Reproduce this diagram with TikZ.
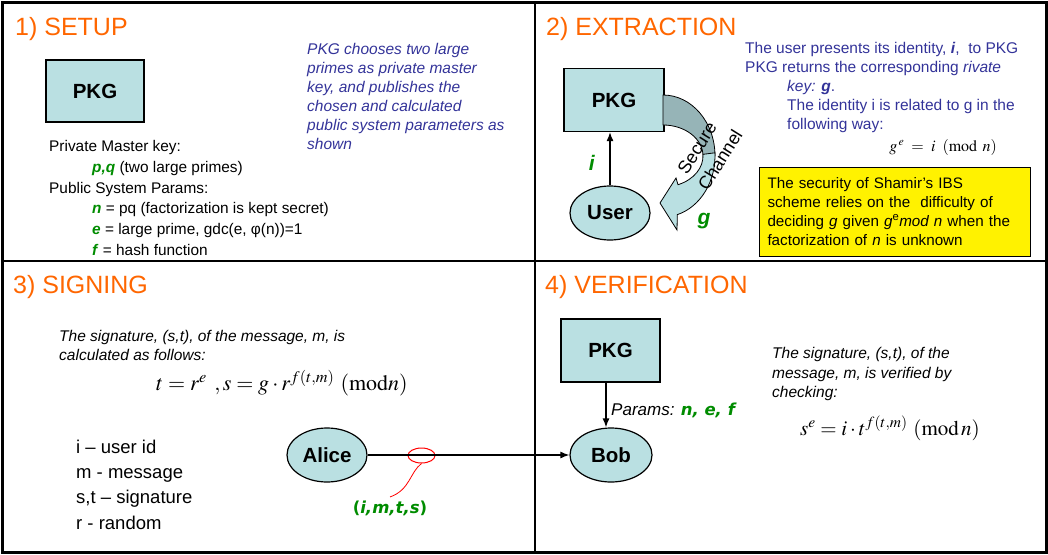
\documentclass[tikz,border=0pt]{standalone}
\usepackage{mathptmx}
\usepackage[no-math]{fontspec}
\setmainfont{Liberation Sans}
\newfontfamily\verd{DejaVu Sans}
\usetikzlibrary{arrows.meta,shapes.geometric}
\definecolor{ttl}{RGB}{255,102,0}
\definecolor{txtblue}{RGB}{51,51,153}
\definecolor{grn}{RGB}{0,140,0}
\definecolor{boxfill}{RGB}{186,224,226}
\definecolor{chdark}{RGB}{150,180,183}
\newcommand{\gv}[1]{\textcolor{grn}{\textbf{\textit{#1}}}}
\newcommand{\fs}[2]{\fontsize{#1}{#2}\selectfont}
\tikzset{
  paneltitle/.style={anchor=base west,text=ttl,font=\fs{25}{25},inner sep=0},
  pkgbox/.style={draw,line width=1.2pt,fill=boxfill,minimum width=98pt,minimum height=62pt,font=\fs{20.5}{20.5}\bfseries},
  actor/.style={ellipse,draw,line width=1.2pt,fill=boxfill,minimum width=80pt,minimum height=54pt,inner sep=0,font=\fs{20.5}{20.5}\bfseries},
  para/.style={anchor=north west,align=left,inner sep=0},
  flow/.style={->,line width=1.3pt},
}
\begin{document}
\begin{tikzpicture}[x=1pt,y=1pt,>={Latex[length=9pt,width=7pt]}]
\useasboundingbox (0,0) rectangle (1048,-554);
\draw[line width=3pt] (2,-2) rectangle (1046,-552);
\draw[line width=2.5pt] (535,-2) -- (535,-552) (2,-261) -- (1046,-261);

\node[paneltitle] (t1) at (15,-35) {1) SETUP};
\node[pkgbox] (pkga) at (95,-91) {PKG};
\node[para,font=\fs{15.4}{20.7}] (keys) at (49,-140.5) {Private Master key:\\
  \hspace*{43pt}\gv{p,q} (two large primes)\\
  Public System Params:\\
  \hspace*{43pt}\gv{n} = pq (factorization is kept secret)\\
  \hspace*{43pt}\gv{e} = large prime, gdc(e, φ(n))=1\\
  \hspace*{43pt}\gv{f} = hash function};
\node[para,text=txtblue,font=\fs{15.5}{19}\itshape] (setupnote) at (307,-43.3) {PKG chooses two large\\primes as private master\\key, and publishes the\\chosen and calculated\\public system parameters as\\shown};

\node[paneltitle] (t2) at (546,-35) {2) EXTRACTION};
\node[pkgbox,minimum width=100pt,minimum height=63pt] (pkgb) at (614,-100) {PKG};
\node[actor] (user) at (610,-213) {User};
\draw[flow] (user.north) -- (user.north |- pkgb.south);
\node[anchor=base,font=\fs{21}{21}] (ilab) at (592,-170) {\gv{i}};
\draw[fill=chdark,line width=0.8pt] (663,-95) arc[start angle=90,end angle=0,x radius=52,y radius=61]
  -- (703,-156) arc[start angle=0,end angle=90,x radius=40,y radius=31] -- cycle;
\draw[fill=boxfill,line width=0.8pt] (714.9,-152.8) arc[start angle=3,end angle=-74,x radius=52,y radius=61]
  -- (677,-230) -- (660,-203) -- (676,-178) -- (678,-184.7)
  arc[start angle=-68,end angle=3,x radius=40,y radius=31] -- cycle;
\node[rotate=58,font=\fs{18}{18}] (sec) at (697,-148) {Secure};
\node[rotate=58,font=\fs{18}{18}] (chan) at (720,-160) {Channel};
\node[anchor=base,font=\fs{21}{21}] (glab) at (704,-224) {\gv{g}};
\node[para,text=txtblue,font=\fs{15.5}{19}] (extract) at (745,-42.3) {The user presents its identity, \textbf{\textit{i}},\ \ to PKG\\
  PKG returns the corresponding \textit{rivate}\\
  \hspace*{42pt}\textit{key: \textbf{g}}.\\
  \hspace*{42pt}The identity i is related to g in the\\
  \hspace*{42pt}following way:};
\node[font=\fs{16}{16}] (rel) at (943,-147) {$g^{\,e}\;=\;i\;\;(\mathrm{mod}\;\,n)$};
\node[draw,line width=0.8pt,fill=yellow,text width=254pt,align=left,inner xsep=8.5pt,minimum height=89pt,font=\fs{15.2}{19}] (secnote) at (894.5,-211.5)
  {The security of Shamir’s IBS\\scheme relies on the\ \ difficulty of\\deciding \textit{g} given \textit{g}\textsuperscript{e}\textit{mod n} when the\\factorization of \textit{n} is unknown};

\node[paneltitle] (t3) at (13,-293) {3) SIGNING};
\node[para,font=\fs{15.5}{19}\itshape] (signtxt) at (59,-330.5) {The signature, (s,t), of the message, m, is\\calculated as follows:};
\node[font=\fs{22}{22}] (signeq) at (282,-383) {$t=r^{e}\;\,,s=g\cdot r^{f(t,m)}\ (\mathrm{mod}n)$};
\node[para,font=\fs{18.5}{25.3}] (legend) at (76,-439.5) {i – user id\\m - message\\s,t – signature\\r - random};
\node[actor] (alice) at (327,-455) {Alice};
\node[ellipse,draw=red,line width=1pt,minimum width=27pt,minimum height=15pt,inner sep=0] (tap) at (421.5,-455.5) {};
\node[anchor=base,text=grn,font=\verd\fs{16.5}{16.5}\bfseries] (sig) at (390,-513) {(\textit{i,m,t,s})};
\draw[red,line width=0.8pt] (tap.south) .. controls (410,-472) and (410,-490) .. (sig.north);

\node[paneltitle] (t4) at (545,-293) {4) VERIFICATION};
\node[pkgbox,minimum width=99pt,minimum height=63pt] (pkgd) at (610.5,-350.5) {PKG};
\node[actor,minimum width=82pt] (bob) at (611,-455) {Bob};
\draw[flow] (alice) -- (bob);
\draw[flow] (pkgd.south -| 606,0) -- (bob.north -| 606,0);
\node[anchor=base west,inner sep=0,font=\fs{17}{17}\itshape] (params) at (611,-415.5) {Params: {\verd\fs{16.5}{16.5}\bfseries\color{grn}n, e, f}};
\node[para,font=\fs{15.5}{19.5}\itshape] (verifytxt) at (772,-347.5) {The signature, (s,t), of the\\message, m, is verified by\\checking:};
\node[font=\fs{21}{21}] (verifyeq) at (890,-428) {$s^{e}=i\cdot t^{f(t,m)}\ (\mathrm{mod}\,n)$};
\end{tikzpicture}
\end{document}
